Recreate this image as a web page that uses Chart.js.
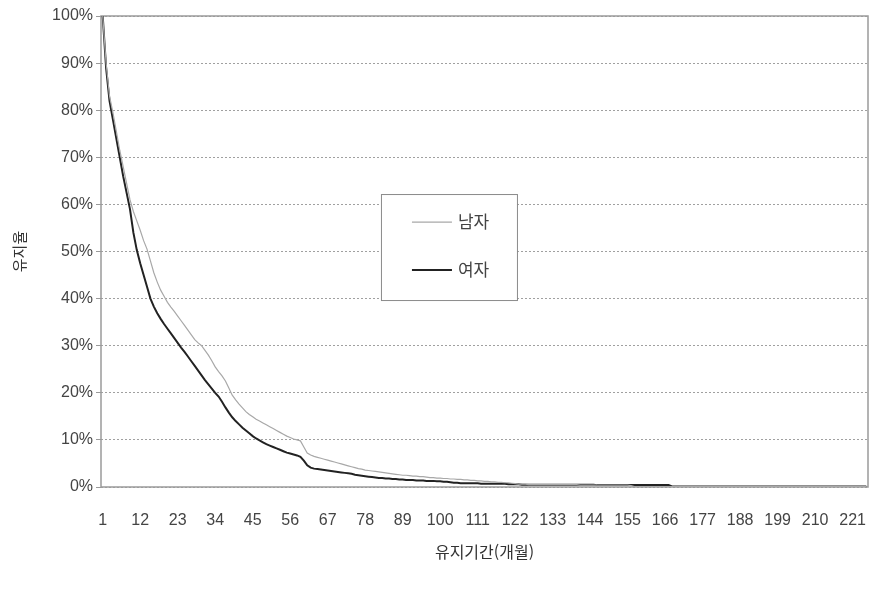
<!DOCTYPE html>
<html lang="ko">
<head>
<meta charset="utf-8">
<title>유지기간별 유지율</title>
<script src="https://cdn.jsdelivr.net/npm/chart.js@4.4.1/dist/chart.umd.min.js"></script>
<style>
  html, body { margin: 0; padding: 0; background: #fff; }
  #wrap { width: 871px; height: 593px; }
</style>
</head>
<body>
<div id="wrap"><canvas id="chart" width="871" height="593"></canvas></div>
<script>
// 유지기간(개월) 1 ~ 225
var months = [];
for (var m = 1; m <= 225; m++) months.push(String(m));

// 축 눈금
var yTicks = [0, 10, 20, 30, 40, 50, 60, 70, 80, 90, 100];

// 남자 유지율 (%) - 그림에서 읽은 값
var male = [
  100, 90, 83, 79.5, 75.5, 71.5, 68, 64.5, 61, 58.5,
  56.5, 54.5, 52.3, 50.5, 48, 45.5, 43.5, 41.8, 40.5, 39.2,
  38.2, 37.3, 36.3, 35.3, 34.3, 33.3, 32.3, 31.3, 30.6, 30,
  29, 28, 26.8, 25.5, 24.5, 23.6, 22.5, 21, 19.5, 18.5,
  17.6, 16.8, 16, 15.4, 14.9, 14.4, 14, 13.6, 13.2, 12.8,
  12.4, 12, 11.6, 11.2, 10.8, 10.5, 10.2, 10, 9.8, 8.5,
  7.2, 6.8, 6.5, 6.3, 6.1, 5.9, 5.7, 5.5, 5.3, 5.1,
  4.9, 4.7, 4.5, 4.3, 4.1, 3.9, 3.8, 3.6, 3.5, 3.4,
  3.3, 3.2, 3.1, 3.0, 2.9, 2.8, 2.7, 2.6, 2.5, 2.5,
  2.4, 2.3, 2.3, 2.2, 2.2, 2.1, 2.0, 2.0, 1.9, 1.9,
  1.8, 1.8, 1.7, 1.7, 1.6, 1.6, 1.5, 1.5, 1.4, 1.4,
  1.3, 1.3, 1.2, 1.2, 1.1, 1.1, 1.0, 1.0, 0.9, 0.9,
  0.8, 0.7, 0.6, 0.6, 0.6, 0.5, 0.5, 0.5, 0.5, 0.5,
  0.5, 0.5, 0.5, 0.5, 0.5, 0.5, 0.5, 0.5, 0.5, 0.5,
  0.4, 0.4, 0.4, 0.4, 0.4, 0.4, 0.4, 0.4, 0.4, 0.4,
  0.4, 0.4, 0.4, 0.4, 0.4, 0.3, 0.1, 0.1, 0.1, 0.1,
  0.1, 0.1, 0.1, 0.1, 0.1, 0.1, 0.1, 0.1, 0.1, 0.1,
  0.1, 0.1, 0.1, 0.1, 0.1, 0.1, 0.1, 0.1, 0.1, 0.1,
  0.1, 0.1, 0.1, 0.1, 0.1, 0.1, 0.1, 0.1, 0.1, 0.1,
  0.1, 0.1, 0.1, 0.1, 0.1, 0.1, 0.1, 0.1, 0.1, 0.1,
  0.1, 0.1, 0.1, 0.1, 0.1, 0.1, 0.1, 0.1, 0.1, 0.1,
  0.1, 0.1, 0.1, 0.1, 0.1, 0.1, 0.1, 0.1, 0.1, 0.1,
  0.1, 0.1, 0.1, 0.1, 0.1
];

// 여자 유지율 (%)
var female = [
  100, 89, 82, 78, 74, 70, 66, 62.5, 59, 54,
  50.3, 47.5, 45, 42.5, 40, 38.3, 36.9, 35.7, 34.6, 33.6,
  32.6, 31.6, 30.6, 29.6, 28.7, 27.7, 26.7, 25.7, 24.7, 23.7,
  22.7, 21.8, 20.9, 20, 19.2, 18.1, 16.9, 15.8, 14.8, 14,
  13.3, 12.6, 12, 11.4, 10.8, 10.3, 9.9, 9.5, 9.1, 8.8,
  8.5, 8.2, 7.9, 7.6, 7.3, 7.1, 6.9, 6.7, 6.4, 5.6,
  4.6, 4.1, 3.9, 3.8, 3.7, 3.6, 3.5, 3.4, 3.3, 3.2,
  3.1, 3.0, 2.9, 2.8, 2.6, 2.5, 2.4, 2.3, 2.2, 2.1,
  2.0, 1.9, 1.9, 1.8, 1.8, 1.7, 1.7, 1.6, 1.6, 1.5,
  1.5, 1.5, 1.4, 1.4, 1.4, 1.3, 1.3, 1.3, 1.2, 1.2,
  1.1, 1.1, 1.0, 0.9, 0.9, 0.8, 0.8, 0.8, 0.8, 0.8,
  0.8, 0.7, 0.7, 0.7, 0.7, 0.7, 0.7, 0.7, 0.7, 0.6,
  0.6, 0.6, 0.6, 0.5, 0.5, 0.5, 0.5, 0.5, 0.5, 0.5,
  0.5, 0.5, 0.5, 0.5, 0.5, 0.5, 0.5, 0.5, 0.5, 0.5,
  0.5, 0.5, 0.5, 0.5, 0.5, 0.4, 0.4, 0.4, 0.4, 0.4,
  0.4, 0.4, 0.4, 0.4, 0.4, 0.4, 0.4, 0.4, 0.4, 0.4,
  0.4, 0.4, 0.4, 0.4, 0.4, 0.4, 0.4, 0.1, 0.1, 0.1,
  0.1, 0.1, 0.1, 0.1, 0.1, 0.1, 0.1, 0.1, 0.1, 0.1,
  0.1, 0.1, 0.1, 0.1, 0.1, 0.1, 0.1, 0.1, 0.1, 0.1,
  0.1, 0.1, 0.1, 0.1, 0.1, 0.1, 0.1, 0.1, 0.1, 0.1,
  0.1, 0.1, 0.1, 0.1, 0.1, 0.1, 0.1, 0.1, 0.1, 0.1,
  0.1, 0.1, 0.1, 0.1, 0.1, 0.1, 0.1, 0.1, 0.1, 0.1,
  0.1, 0.1, 0.1, 0.1, 0.1
];

var seriesNames = ["남자", "여자"];

var tickFont = { family: "'Liberation Sans', Arial, sans-serif", size: 16 };
var krFont = "'Noto Sans CJK KR', 'Noto Sans', sans-serif";

// 플롯 영역 테두리 (위, 오른쪽 포함)
var frameBox = {
  id: "frameBox",
  beforeDatasetsDraw: function (chart) {
    var a = chart.chartArea, c = chart.ctx;
    c.save();
    c.strokeStyle = "#9a9a9a";
    c.lineWidth = 1.5;
    c.strokeRect(a.left, a.top, a.right - a.left, a.bottom - a.top);
    c.restore();
  }
};

// 그래프 안쪽 범례
var innerLegend = {
  id: "innerLegend",
  afterDatasetsDraw: function (chart) {
    var a = chart.chartArea, c = chart.ctx;
    var w = a.right - a.left, h = a.bottom - a.top;
    var x = a.left + w * 0.365, y = a.top + h * 0.378;
    var bw = 136, bh = 106;
    c.save();
    c.fillStyle = "#fff";
    c.fillRect(x, y, bw, bh);
    c.strokeStyle = "#8a8a8a";
    c.lineWidth = 1;
    c.strokeRect(x + 0.5, y + 0.5, bw, bh);
    c.font = "17px " + krFont;
    c.textBaseline = "middle";
    chart.data.datasets.forEach(function (ds, i) {
      var ly = y + 28 + i * 48;
      c.strokeStyle = ds.borderColor;
      c.lineWidth = ds.borderWidth;
      c.beginPath();
      c.moveTo(x + 31, ly);
      c.lineTo(x + 71, ly);
      c.stroke();
      c.fillStyle = "#444";
      c.fillText(ds.label, x + 77, ly);
    });
    c.restore();
  }
};

var ctx = document.getElementById("chart").getContext("2d");
var Grafico = new Chart(ctx, {
  type: "line",
  data: {
    labels: months,
    datasets: [
      {
        label: seriesNames[0],
        data: male,
        borderColor: "#a8a8a8",
        borderWidth: 1.2,
        pointRadius: 0,
        tension: 0
      },
      {
        label: seriesNames[1],
        data: female,
        borderColor: "#222",
        borderWidth: 2,
        pointRadius: 0,
        tension: 0
      }
    ]
  },
  options: {
    responsive: false,
    animation: false,
    layout: { padding: { top: 16, right: 3, left: 0, bottom: 0 } },
    plugins: {
      legend: { display: false },
      tooltip: { enabled: false }
    },
    scales: {
      x: {
        type: "category",
        offset: true,
        grid: { display: false, drawTicks: false },
        border: { display: false },
        ticks: {
          autoSkip: false,
          maxRotation: 0,
          minRotation: 0,
          padding: 24,
          color: "#444",
          font: tickFont,
          callback: function (v, i) {
            return i % 11 === 0 ? this.getLabelForValue(v) : null;
          }
        },
        title: {
          display: true,
          text: "유지기간(개월)",
          color: "#333",
          font: { family: krFont, size: 16 },
          padding: { top: 0, bottom: 31 }
        },
        afterFit: function (s) {
          s.height = 106;
          s.paddingLeft = 0;
          s.paddingRight = 0;
        }
      },
      y: {
        min: 0,
        max: 100,
        afterBuildTicks: function (s) {
          s.ticks = yTicks.map(function (v) { return { value: v }; });
        },
        grid: {
          color: "#a0a0a0",
          lineWidth: 1,
          drawTicks: true,
          tickLength: 5,
          tickColor: "#9a9a9a"
        },
        border: { display: false, dash: [2, 2] },
        ticks: {
          padding: 3,
          color: "#444",
          font: tickFont,
          callback: function (v) { return v + "%"; }
        },
        title: {
          display: true,
          text: "유지율",
          color: "#333",
          font: { family: krFont, size: 15 },
          padding: { top: 10, bottom: 0 }
        },
        afterFit: function (s) {
          s.width = 101;
          s.paddingTop = 0;
          s.paddingBottom = 0;
        }
      }
    }
  },
  plugins: [frameBox, innerLegend]
});
</script>
</body>
</html>
